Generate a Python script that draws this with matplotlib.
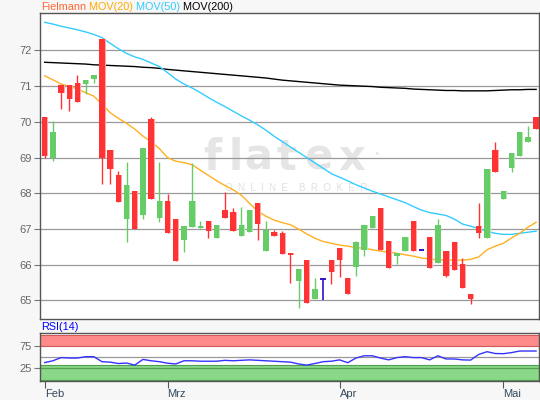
import matplotlib
matplotlib.use("Agg")
import matplotlib.pyplot as plt
import numpy as np

plt.rcParams["font.family"] = ["Liberation Sans", "DejaVu Sans"]

# daily candles, Feb - Mai
opens = [70.14, 68.98, 71.03, 71.03, 71.08, 71.07, 71.21, 72.31, 69.21, 68.51,
         67.27, 68.06, 67.40, 70.08, 67.32, 67.78, 67.28, 66.70, 67.06, 67.02,
         67.22, 66.76, 67.53, 67.48, 66.81, 66.91, 67.73, 66.39, 66.91, 66.89,
         66.33, 65.55, 66.13, 65.05, 65.61, 66.13, 66.46, 65.64, 65.94, 66.40,
         67.02, 67.59, 66.66, 66.24, 66.38, 67.22, 66.40, 66.78, 66.06, 66.38,
         66.64, 66.02, 65.18, 67.08, 66.76, 69.21, 67.85, 68.72, 69.05, 69.45,
         70.14]
highs = [70.14, 70.03, 71.03, 71.03, 71.31, 71.17, 71.31, 72.33, 69.21, 68.62,
         68.88, 68.06, 69.27, 70.14, 68.88, 67.97, 67.28, 67.08, 68.84, 67.22,
         67.22, 67.11, 68.03, 67.58, 67.61, 67.53, 67.73, 67.22, 66.97, 66.94,
         66.33, 65.88, 66.13, 65.63, 65.61, 66.13, 66.46, 65.64, 66.66, 67.11,
         67.36, 67.59, 66.66, 66.33, 66.78, 67.22, 66.40, 66.78, 67.28, 66.38,
         66.64, 66.18, 65.18, 67.73, 68.68, 69.44, 68.06, 69.14, 69.72, 69.89,
         70.14]
lows = [69.00, 68.91, 70.36, 70.31, 70.57, 70.77, 71.08, 68.27, 68.27, 67.76,
        66.64, 67.01, 67.27, 67.85, 67.20, 66.90, 66.11, 66.36, 67.06, 67.02,
        66.76, 66.76, 67.32, 66.95, 66.81, 66.91, 66.70, 66.39, 66.81, 66.31,
        65.50, 64.78, 64.92, 65.05, 65.01, 65.46, 65.66, 65.17, 65.69, 66.25,
        67.02, 66.41, 65.92, 66.01, 66.38, 66.38, 66.40, 65.91, 66.06, 65.66,
        65.86, 65.36, 64.90, 66.76, 66.76, 68.61, 67.85, 68.61, 69.05, 69.45,
        69.81]
closes = [69.05, 69.72, 70.82, 70.64, 70.57, 71.17, 71.31, 68.98, 68.67, 67.76,
          68.23, 67.01, 69.27, 67.85, 67.78, 66.90, 66.11, 67.08, 67.78, 67.08,
          66.95, 67.11, 67.32, 66.95, 67.11, 67.53, 67.15, 66.97, 66.81, 66.31,
          66.26, 65.88, 64.92, 65.32, 65.61, 65.80, 66.12, 65.17, 66.63, 67.11,
          67.36, 66.41, 65.92, 66.33, 66.78, 66.38, 66.40, 65.91, 67.11, 65.68,
          65.86, 65.36, 65.04, 66.90, 68.68, 68.61, 68.06, 69.14, 69.72, 69.58,
          69.81]

mov20 = [71.29, 71.18, 71.06, 71.00, 70.92, 70.82, 70.72, 70.50, 70.26, 70.10,
         69.96, 69.80, 69.60, 69.45, 69.25, 69.00, 68.90, 68.86, 68.80, 68.65,
         68.50, 68.35, 68.22, 68.10, 67.95, 67.72, 67.50, 67.36, 67.25, 67.18,
         67.12, 67.00, 66.86, 66.74, 66.65, 66.60, 66.55, 66.52, 66.48, 66.46,
         66.42, 66.38, 66.35, 66.32, 66.28, 66.24, 66.19, 66.16, 66.14, 66.13,
         66.13, 66.13, 66.15, 66.22, 66.42, 66.52, 66.60, 66.75, 66.88, 67.05,
         67.19]
mov50 = [72.79, 72.74, 72.68, 72.63, 72.58, 72.52, 72.45, 72.36, 72.20, 72.05,
         71.92, 71.82, 71.75, 71.65, 71.55, 71.38, 71.20, 71.06, 70.95, 70.82,
         70.68, 70.55, 70.43, 70.30, 70.17, 70.05, 69.92, 69.77, 69.60, 69.45,
         69.30, 69.15, 69.00, 68.85, 68.70, 68.55, 68.45, 68.35, 68.24, 68.15,
         68.06, 67.98, 67.90, 67.82, 67.74, 67.63, 67.53, 67.46, 67.42, 67.38,
         67.28, 67.14, 67.08, 67.01, 66.94, 66.88, 66.85, 66.85, 66.88, 66.91,
         66.94]
mov200 = [71.67, 71.66, 71.65, 71.64, 71.63, 71.62, 71.60, 71.59, 71.58, 71.57,
          71.56, 71.55, 71.53, 71.52, 71.50, 71.47, 71.45, 71.43, 71.41, 71.39,
          71.37, 71.35, 71.33, 71.31, 71.29, 71.27, 71.25, 71.23, 71.20, 71.17,
          71.15, 71.13, 71.11, 71.09, 71.07, 71.05, 71.03, 71.02, 71.01, 71.00,
          70.99, 70.97, 70.96, 70.95, 70.94, 70.92, 70.91, 70.90, 70.89, 70.88,
          70.88, 70.87, 70.87, 70.87, 70.87, 70.88, 70.89, 70.90, 70.90, 70.91,
          70.91]
rsi = [38, 42, 49, 48, 48, 51, 51, 40, 39, 36,
       37, 32.5, 45, 42, 40, 36.6, 35, 42, 42, 41,
       41, 41, 43, 42, 43, 44, 43, 42, 41, 40,
       39, 35, 32.5, 36, 40, 41, 44, 37.8, 48, 53,
       53, 48, 44, 49, 51, 49, 49, 44, 53, 46,
       46, 44, 43.5, 56, 62, 58, 57.6, 60, 63.5, 63.5,
       63.5]

month_labels = ["Feb", "Mrz", "Apr", "Mai"]
month_idx = [0, 15, 36, 56]
price_ticks = [65, 66, 67, 68, 69, 70, 71, 72]
rsi_ticks = [25, 75]

RED, RED_LT = "#ff3333", "#ffaaaa"
GREEN, GREEN_LT = "#66cc66", "#b5e6b5"
DOJI = "#3311cc"

o = np.array(opens)
c = np.array(closes)
h = np.array(highs)
l = np.array(lows)
x = np.arange(len(o))
up = c > o
down = c < o
flat = c == o

fig = plt.figure(figsize=(5.4, 4.0), dpi=100, facecolor="#f7f7f7")
ax = fig.add_axes([40 / 540, 1 - 319 / 400, 499 / 540, 306 / 400])
ax2 = fig.add_axes([40 / 540, 1 - 380.6 / 400, 499 / 540, 47.2 / 400])

# watermark, letter by letter (the logo is widely spaced)
for ch, px in zip("flatex", [212, 236, 258, 286, 318, 352]):
    ax.text((px - 40) / 499, 0.487, ch, transform=ax.transAxes, ha="center",
            va="baseline", fontsize=30, fontweight="bold", color="#e5e5e5",
            family=["DejaVu Sans"], zorder=0)
ax.text((377 - 40) / 499, 0.54, "\u25cf", transform=ax.transAxes, ha="center",
        va="center", fontsize=5, color="#e5e5e5", zorder=0)
ax.text(0.514, 0.428, "O  N  L  I  N  E    B  R  O  K  E  R",
        transform=ax.transAxes, ha="center", va="center", fontsize=7,
        color="#e0e0e0", zorder=0)

for v in price_ticks:
    ax.axhline(v, color="#999999", lw=0.9, zorder=1)

ax.plot(x, mov200, color="black", lw=1.0, zorder=2)
ax.plot(x, mov50, color="#33ccff", lw=1.0, zorder=2)
ax.plot(x, mov20, color="#ffb020", lw=1.0, zorder=2)

w = 0.66
ax.vlines(x[up], l[up], h[up], color=GREEN, lw=1.0, zorder=3)
ax.vlines(x[down], l[down], h[down], color=RED, lw=1.0, zorder=3)
ax.vlines(x[flat], l[flat], h[flat], color=DOJI, lw=1.2, zorder=3)
body_lo = np.minimum(o, c)
body_h = np.abs(c - o)
ax.bar(x[up] + 0.05, body_h[up], bottom=body_lo[up], width=w + 0.1,
       color=GREEN_LT, zorder=3)
ax.bar(x[up], body_h[up], bottom=body_lo[up], width=w, color=GREEN, zorder=4)
ax.bar(x[down] + 0.05, body_h[down], bottom=body_lo[down], width=w + 0.1,
       color=RED_LT, zorder=3)
ax.bar(x[down], body_h[down], bottom=body_lo[down], width=w, color=RED, zorder=4)
ax.hlines(o[flat], x[flat] - 0.36, x[flat] + 0.36, color=DOJI, lw=1.4, zorder=4)

ax.set_xlim(-0.57, 60.35)
ax.set_ylim(64.48, 73.05)
ax.set_yticks(price_ticks)
ax.set_xticks([])
ax.tick_params(axis="y", length=4, width=0.8, color="#777777",
               labelcolor="#666666", labelsize=8, pad=2)
for s in ax.spines.values():
    s.set_color("#555555")
    s.set_linewidth(1.0)

# legend line above the chart
prev = fig.text(41 / 540, 1 - 7 / 400, "Fielmann", color="#ff6633",
                fontsize=7.8, va="center")
for label, col in [("MOV(20)", "#ffaa00"), ("MOV(50)", "#33ccff"),
                   ("MOV(200)", "black")]:
    prev = ax.annotate(" " + label, xy=(1, 0), xycoords=prev, va="bottom",
                       ha="left", color=col, fontsize=7.8,
                       annotation_clip=False)

# RSI panel
ax2.axhspan(75, 99, facecolor="#ff8a8a", edgecolor="#d05a5a", lw=0.8, zorder=1)
ax2.axhspan(0, 32.5, facecolor="#88d888", edgecolor="#4f9f4f", lw=0.8, zorder=1)
ax2.axhline(50, color="#999999", lw=0.9, zorder=1)
ax2.axhline(25, color="#55a055", lw=0.9, zorder=1)
ax2.plot(x, rsi, color="#3333ff", lw=1.0, zorder=3)
ax2.set_xlim(-0.57, 60.35)
ax2.set_ylim(-1.65, 102.3)
ax2.set_yticks(rsi_ticks)
ax2.set_xticks(month_idx)
ax2.set_xticklabels(month_labels, ha="left")
ax2.tick_params(axis="y", length=4, width=0.8, color="#777777",
                labelcolor="#666666", labelsize=8, pad=2)
ax2.tick_params(axis="x", length=5, width=0.8, color="#555555",
                labelcolor="#34495e", labelsize=8, pad=1)
for s in ax2.spines.values():
    s.set_color("#555555")
    s.set_linewidth(1.0)
fig.text(41 / 540, 1 - 327 / 400, "RSI(14)", color="#0000ff", fontsize=7.8,
         va="center")

fig.savefig("out.png", dpi=100, facecolor=fig.get_facecolor())
